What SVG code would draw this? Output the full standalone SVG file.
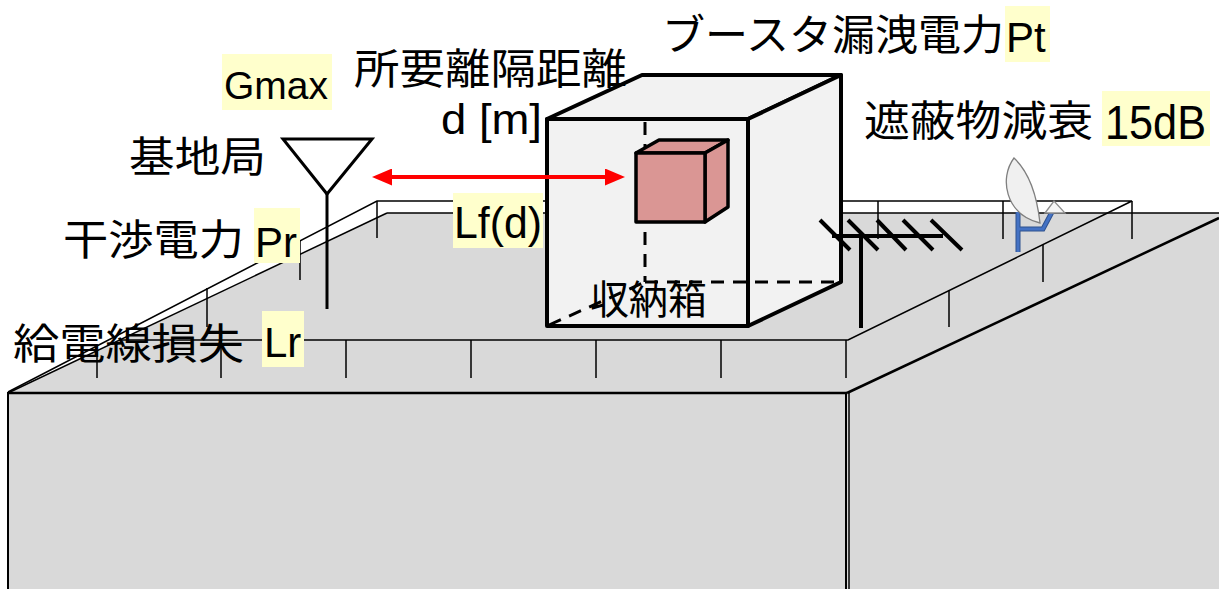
<svg xmlns="http://www.w3.org/2000/svg" width="1219" height="589" viewBox="0 0 1219 589">
<style>
.jp{font-family:'Noto Sans CJK JP','Noto Sans CJK SC',sans-serif;font-size:42px;fill:#000}
.la{font-family:'Liberation Sans',Arial,sans-serif;font-size:42px;fill:#000}
.hl{fill:#ffffcc}
.thin{stroke:#000;stroke-width:1.5;fill:none}
.wall{fill:#d9d9d9;stroke:none}
.boxf{fill:#f2f2f2;stroke:#000;stroke-width:4;stroke-linejoin:round}
.cube{fill:#da9694;stroke:#000;stroke-width:3.5;stroke-linejoin:round}
.dash{stroke:#000;stroke-width:3;stroke-dasharray:13 9;fill:none}
.ant{stroke:#000;stroke-width:3;fill:none}
.yagi{stroke:#000;stroke-width:4;fill:none}
</style>
<defs>
<marker id="ah" viewBox="0 0 20 17" refX="6" refY="8.5" markerWidth="5" markerHeight="4.25" markerUnits="strokeWidth" orient="auto-start-reverse">
<path d="M0,0 L20,8.5 L0,17 Z" fill="#ff0000"/>
</marker>
</defs>
<rect width="1219" height="589" fill="#fff"/>

<g id="building">
<polygon class="wall" points="847,393 1219,218 1219,589 847,589"/>
<polygon class="wall" points="8,393 387,213 1219,213 1219,218 847,393"/>
<rect x="8" y="393" width="838" height="200" fill="#d9d9d9" stroke="#000" stroke-width="2"/>
<line x1="849" y1="393" x2="849" y2="589" stroke="#000" stroke-width="1.5"/>
<line x1="8" y1="393" x2="847" y2="393" stroke="#000" stroke-width="2.5"/>
<line x1="847" y1="393" x2="1219" y2="218" stroke="#000" stroke-width="2.5"/>
<line class="thin" x1="8" y1="393" x2="387" y2="213"/>
<line class="thin" x1="387" y1="213" x2="1219" y2="213"/>
</g>

<g id="parapet">
<polyline class="thin" points="8,392 377,201 1132,201 848,340 119,340"/>
<path class="thin" d="M97,350V378M221,340V378M346,340V378M471,340V378M596,340V378M721,340V378M846,340V378M207,288V327M300,240V280M377,201V238M878,201V239M1003,201V239M1132,201V239M1043,245V282M949,290V327"/>
</g>

<g id="base-station-antenna">
<polygon class="ant" points="283,139 372,139 327,194" stroke-linejoin="miter"/>
<line class="ant" x1="327" y1="194" x2="327" y2="309"/>
</g>

<g id="storage-box">
<polygon class="boxf" points="547,119 642,75 841,75 748,119"/>
<polygon class="boxf" points="748,119 841,75 841,282 748,326"/>
<rect class="boxf" x="547" y="119" width="201" height="207"/>
<line class="dash" x1="645" y1="122" x2="645" y2="282"/>
<line class="dash" x1="645" y1="282" x2="841" y2="282"/>
<line class="dash" x1="549" y1="325" x2="645" y2="282"/>
</g>

<g id="booster">
<polygon class="cube" points="636,153 659,140 728,140 705,153"/>
<polygon class="cube" points="705,153 728,140 728,207 705,222"/>
<rect class="cube" x="636" y="153" width="69" height="69"/>
</g>

<g id="yagi-antenna">
<line class="yagi" x1="832" y1="236" x2="943" y2="236"/>
<line class="yagi" x1="861" y1="236" x2="861" y2="328"/>
<path class="yagi" d="M820,220L850,250M848,220L878,250M877,220L906,250M903,220L933,250M931,220L962,250"/>
</g>

<g id="satellite-dish">
<path d="M1018,212V252M1018,229H1043L1052,212" stroke="#2f528f" stroke-width="5" fill="none"/>
<path d="M1018,212V252M1018,229H1043L1052,212" stroke="#4472c4" stroke-width="3" fill="none"/>
<path d="M1014,158 C999,178 1005,214 1040,223 C1037,196 1029,172 1014,158 Z" fill="#f0f0f0" stroke="#7f7f7f" stroke-width="1.3"/>
<polygon points="1045,213 1054,201 1065,213" fill="#f5f5f5" stroke="#8c8c8c" stroke-width="1.3"/>
</g>

<g id="connectors">
<line x1="386" y1="177" x2="611" y2="177" stroke="#ff0000" stroke-width="4" marker-start="url(#ah)" marker-end="url(#ah)"/>
</g>

<g id="label-booster">
<text class="jp" x="662" y="50" textLength="342" lengthAdjust="spacingAndGlyphs">ブースタ漏洩電力</text>
<rect class="hl" x="1005" y="6" width="45" height="56"/>
<text class="la" x="1006" y="52">Pt</text>
</g>
<g id="label-distance">
<text class="jp" x="354" y="84" textLength="273" lengthAdjust="spacingAndGlyphs">所要離隔距離</text>
<text class="la" x="441" y="134" textLength="101" lengthAdjust="spacingAndGlyphs">d [m]</text>
</g>
<g id="label-gmax">
<rect class="hl" x="222" y="54" width="110" height="56"/>
<text class="la" x="224" y="99" style="font-size:39px">Gmax</text>
</g>
<g id="label-base">
<text class="jp" x="129" y="172" textLength="137" lengthAdjust="spacingAndGlyphs">基地局</text>
</g>
<g id="label-shield">
<text class="jp" x="864" y="136" textLength="229" lengthAdjust="spacingAndGlyphs">遮蔽物減衰</text>
<rect class="hl" x="1102" y="91" width="108" height="55"/>
<text class="la" x="1105" y="139" style="font-size:48px" textLength="101" lengthAdjust="spacingAndGlyphs">15dB</text>
</g>
<g id="label-interference">
<text class="jp" x="63" y="255" textLength="181" lengthAdjust="spacingAndGlyphs">干渉電力</text>
<rect class="hl" x="254" y="208" width="46" height="55"/>
<text class="la" x="255" y="257">Pr</text>
</g>
<g id="label-feeder">
<text class="jp" x="13" y="359" textLength="231" lengthAdjust="spacingAndGlyphs">給電線損失</text>
<rect class="hl" x="262" y="311" width="42" height="56"/>
<text class="la" x="264" y="357">Lr</text>
</g>
<g id="label-lf">
<rect class="hl" x="453" y="193" width="90" height="55"/>
<text class="la" x="454" y="238" style="font-size:44px" textLength="88" lengthAdjust="spacingAndGlyphs">Lf(d)</text>
</g>
<g id="label-box">
<text class="jp" x="590" y="314" style="font-size:40px" textLength="117" lengthAdjust="spacingAndGlyphs">収納箱</text>
</g>
</svg>
